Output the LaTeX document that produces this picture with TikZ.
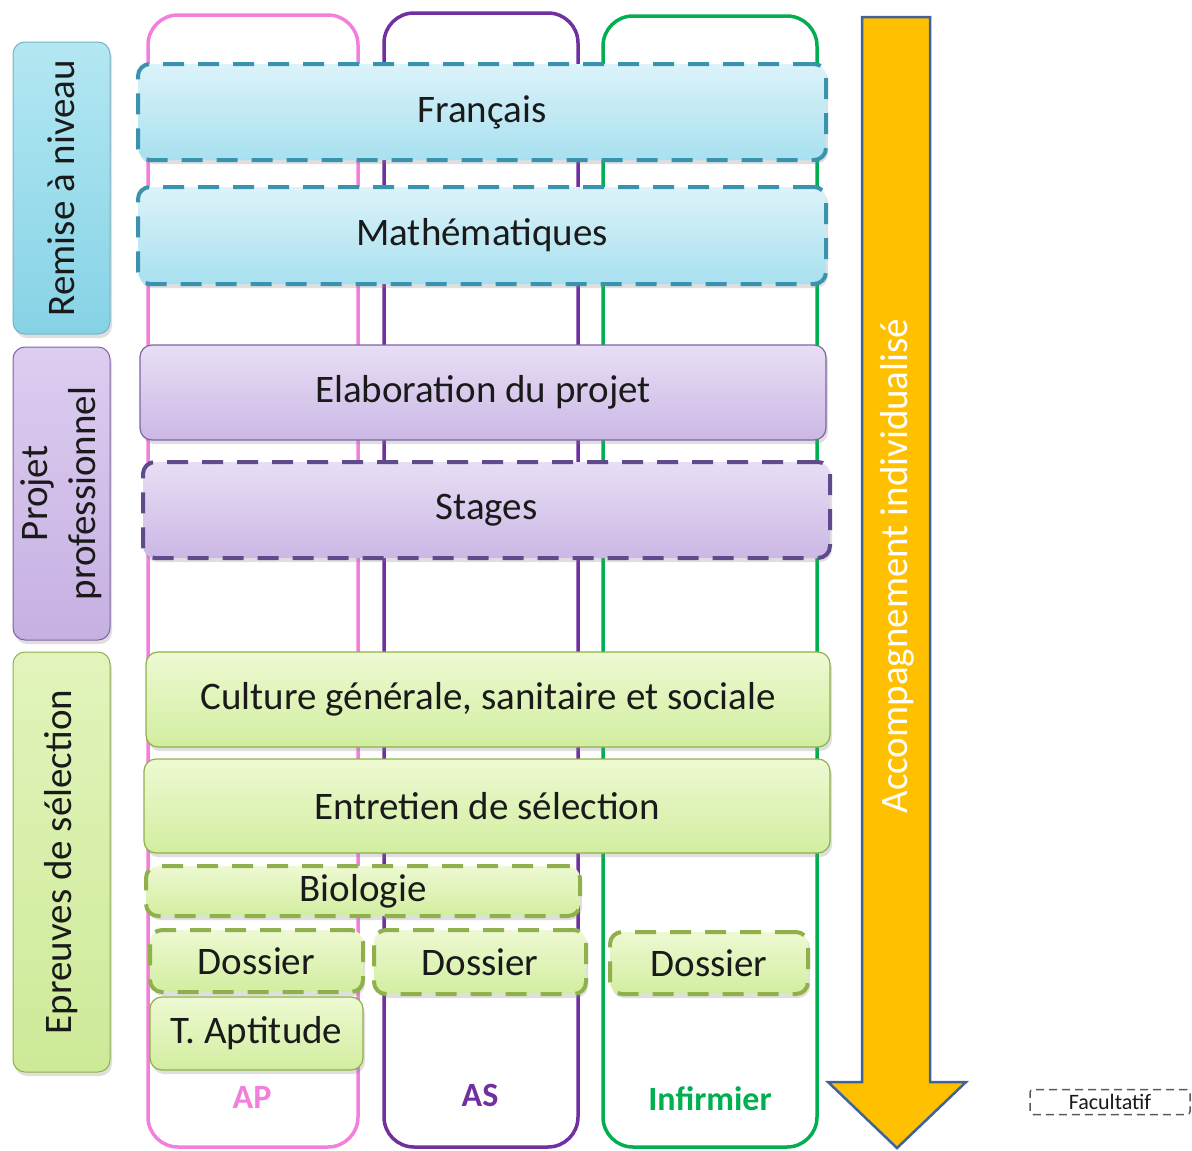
\documentclass[tikz,border=0pt]{standalone}
\usepackage{fontspec}
\setmainfont{Carlito}
\usetikzlibrary{shadows}
\definecolor{colAP}{HTML}{F27FDC}
\definecolor{colAS}{HTML}{7030A0}
\definecolor{colIN}{HTML}{00B050}
\definecolor{cyanD}{HTML}{3A93AE}
\definecolor{cyanT}{HTML}{DCF3FA}
\definecolor{cyanB}{HTML}{A8E0EF}
\definecolor{cyanBoxT}{HTML}{B4E7F2}
\definecolor{cyanBoxB}{HTML}{86D3E6}
\definecolor{purD}{HTML}{5F4B8B}
\definecolor{purS}{HTML}{8064A2}
\definecolor{purT}{HTML}{E8DEF5}
\definecolor{purB}{HTML}{CBB8E5}
\definecolor{purBoxT}{HTML}{DCCDF0}
\definecolor{purBoxB}{HTML}{C6B0E2}
\definecolor{grnD}{HTML}{8FB04A}
\definecolor{grnT}{HTML}{EEF9D2}
\definecolor{grnB}{HTML}{D2EEA0}
\definecolor{grnBoxT}{HTML}{E2F4BC}
\definecolor{grnBoxB}{HTML}{CDEA98}
\definecolor{arrowF}{HTML}{FFC000}
\definecolor{arrowD}{HTML}{40629A}
\definecolor{txt}{HTML}{1A1A1A}
\tikzset{
  bigfont/.style={font=\fontsize{39}{48}\selectfont},
  column/.style={line width=3.5pt, rounded corners=30pt},
  barbase/.style={rounded corners=12pt, inner sep=0pt, text=txt, bigfont,
     drop shadow={shadow xshift=2pt, shadow yshift=-4pt, opacity=0.25, fill=black!50}},
  cyandash/.style={barbase, draw=cyanD, line width=4pt, dash pattern=on 21pt off 14pt, top color=cyanT, bottom color=cyanB},
  purplain/.style={barbase, draw=purS, line width=1.2pt, top color=purT, bottom color=purB},
  purdash/.style={barbase, draw=purD, line width=4pt, dash pattern=on 21pt off 14pt, top color=purT, bottom color=purB},
  grnplain/.style={barbase, draw=grnD, line width=1.2pt, top color=grnT, bottom color=grnB},
  grndash/.style={barbase, draw=grnD, line width=4pt, dash pattern=on 21pt off 14pt, top color=grnT, bottom color=grnB},
  catbox/.style={rounded corners=12pt, inner sep=0pt, rotate=90, text=txt, bigfont, align=center,
     drop shadow={shadow xshift=2pt, shadow yshift=-4pt, opacity=0.25, fill=black!50}},
  collabel/.style={font=\fontsize{34}{40}\selectfont\bfseries}
}
\begin{document}
\begin{tikzpicture}[x=1pt, y=-1pt]
\useasboundingbox (0,0) rectangle (1192,1151);
% columns
\draw[column, colAP] (148,15) rectangle (358,1147);
\draw[column, colAS] (384,13) rectangle (578,1147);
\draw[column, colIN] (603,16) rectangle (817,1147);
% column labels
\node[collabel, text=colAP] (labAP) at (252,1097) {AP};
\node[collabel, text=colAS] (labAS) at (480,1095) {AS};
\node[collabel, text=colIN] (labIN) at (710,1099) {Infirmier};
% category boxes
\node[catbox, draw=cyanD!70, line width=1pt, top color=cyanBoxT, bottom color=cyanBoxB,
      minimum width=292pt, minimum height=97pt] (remise) at (61.5,188) {Remise à niveau};
\node[catbox, draw=purS, line width=1pt, top color=purBoxT, bottom color=purBoxB,
      minimum width=293pt, minimum height=97pt] (projet) at (61.5,493.5) {Projet\\professionnel};
\node[catbox, draw=grnD, line width=1pt, top color=grnBoxT, bottom color=grnBoxB,
      minimum width=420pt, minimum height=97pt] (epreuves) at (61.5,862) {Epreuves de sélection};
% bars
\node[cyandash, minimum width=688pt, minimum height=96pt] (francais) at (482,112) {Français};
\node[cyandash, minimum width=688pt, minimum height=97pt] (maths) at (482,235.5) {Mathématiques};
\node[purplain, minimum width=686pt, minimum height=95pt] (elab) at (483,392.5) {Elaboration du projet};
\node[purdash, minimum width=687pt, minimum height=96pt] (stages) at (486.5,510) {Stages};
\node[grnplain, minimum width=684pt, minimum height=95pt] (culture) at (488,699.5) {Culture générale, sanitaire et sociale};
\node[grnplain, minimum width=686pt, minimum height=94pt] (entretien) at (487,806) {Entretien de sélection};
\node[grndash, minimum width=434pt, minimum height=50pt] (bio) at (363,891) {Biologie};
\node[grndash, minimum width=213pt, minimum height=62pt] (dossAP) at (256.5,961) {Dossier};
\node[grndash, minimum width=212pt, minimum height=64pt] (dossAS) at (480,962) {Dossier};
\node[grndash, minimum width=198pt, minimum height=62pt] (dossIN) at (709,963) {Dossier};
\node[grnplain, minimum width=213pt, minimum height=73pt] (tapt) at (256.5,1033.5) {T. Aptitude};
% arrow
\draw[fill=arrowF, draw=arrowD, line width=2.5pt, line join=miter]
  (862,17) -- (930,17) -- (930,1082) -- (966,1082) -- (897,1148) -- (828,1082) -- (862,1082) -- cycle;
\node[rotate=90, text=white, bigfont] (accomp) at (897,566) {Accompagnement individualisé};
% legend
\node[draw=black!65, line width=1.5pt, dash pattern=on 8pt off 5pt, rounded corners=3pt,
      minimum width=160pt, minimum height=25pt, inner sep=0pt, text=txt,
      font=\fontsize{22}{24}\selectfont] (legend) at (1110,1102) {Facultatif};
\end{tikzpicture}
\end{document}
